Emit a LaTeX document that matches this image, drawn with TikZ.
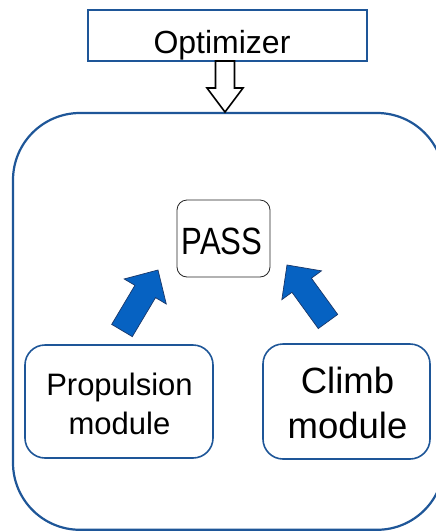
\documentclass[tikz,border=0pt]{standalone}
\usepackage{fontspec}
\setmainfont{Liberation Sans}
\usetikzlibrary{calc}
\definecolor{frameblue}{RGB}{30,86,152}
\definecolor{arrowblue}{RGB}{6,98,194}
\definecolor{arrowedge}{RGB}{25,55,105}
\newcommand\blkarrow[6]{% style, tail, tip, half shaft, half head, head length
  \path[#1] ($(#2)!#4!90:(#3)$) -- ($($(#3)!#6!(#2)$)!#4!90:(#3)$)
    -- ($($(#3)!#6!(#2)$)!#5!90:(#3)$) -- (#3)
    -- ($($(#3)!#6!(#2)$)!#5!-90:(#3)$) -- ($($(#3)!#6!(#2)$)!#4!-90:(#3)$)
    -- ($(#2)!#4!-90:(#3)$) -- cycle;}
\tikzset{
  optbox/.style={draw=frameblue, line width=1.8pt, fill=white, minimum width=279pt, minimum height=51pt, inner sep=0pt},
  modbox/.style={draw=frameblue, line width=1.6pt, rounded corners=20pt, inner sep=0pt},
  passbox/.style={draw=black!85, line width=0.8pt, rounded corners=10pt, inner sep=0pt, minimum width=93pt, minimum height=77pt},
  lbl/.style={anchor=base, inner sep=0pt},
  bluearrow/.style={fill=arrowblue, draw=arrowedge, line width=0.7pt, line join=miter},
  hollowarrow/.style={fill=white, draw=black, line width=1.6pt, line join=miter},
}
\begin{document}
\begin{tikzpicture}[x=1pt,y=-1pt]
\useasboundingbox (0,0) rectangle (436,531);
\clip (0,0) rectangle (436,531);
\fill[white] (0,0) rectangle (436,531);
% outer container
\draw[frameblue, line width=2.2pt, rounded corners=67pt] (13,113) rectangle (444,529.8);
% optimizer
\node[optbox] (opt) at (227.5,35.5) {};
\node[lbl, font=\fontsize{32}{38}\selectfont] (optlabel) at (222,53) {Optimizer};
% hollow arrow
\coordinate (htail) at (225,61);
\coordinate (htip) at (225,112);
\blkarrow{hollowarrow}{htail}{htip}{9.5pt}{18pt}{24pt}
% PASS
\node[passbox] (pass) at (223.5,238.5) {};
\node[lbl, font=\fontsize{38}{45}\selectfont] (passlabel) at (222,254) {\scalebox{0.82}[1]{PASS}};
% modules
\node[modbox, minimum width=188pt, minimum height=113pt] (prop) at (119,401.5) {};
\node[lbl, font=\fontsize{31}{38}\selectfont] (propl1) at (119.5,395) {Propulsion};
\node[lbl, font=\fontsize{31}{38}\selectfont] (propl2) at (119.5,434) {module};
\node[modbox, minimum width=167pt, minimum height=115pt] (climb) at (346.5,401.5) {};
\node[lbl, font=\fontsize{36.5}{44}\selectfont] (climbl1) at (347.5,393) {Climb};
\node[lbl, font=\fontsize{36.5}{44}\selectfont] (climbl2) at (347.5,438) {module};
% blue arrows
\coordinate (ltail) at (122,330.5);
\coordinate (ltip) at (158,270);
\blkarrow{bluearrow}{ltail}{ltip}{12pt}{24.5pt}{25pt}
\coordinate (rtail) at (328,321.5);
\coordinate (rtip) at (287,265);
\blkarrow{bluearrow}{rtail}{rtip}{12pt}{24.5pt}{25pt}
\end{tikzpicture}
\end{document}
